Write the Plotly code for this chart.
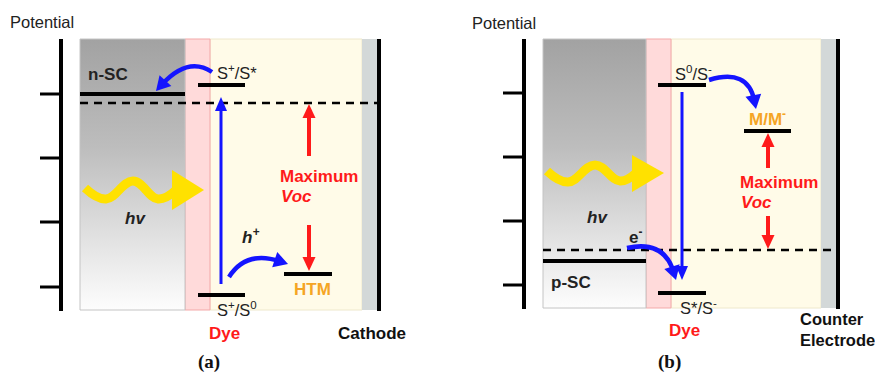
import plotly.graph_objects as go

W, H = 875, 372

# ---------------- layout of the two panels (pixel space) ----------------
axis_x = [61, 524]
axis_y = [[39, 311], [39, 309]]
tick_y = [[94, 158, 222, 287], [93, 157, 221, 285]]
tick_len = 21
box_y = [[39, 310], [39, 308]]
sc_x = [[80, 185], [543, 646]]
dye_x = [[185, 210], [646, 671]]
yel_x = [[210, 362], [671, 821]]
strip_x = [[362, 377], [821, 836]]
right_x = [379, 838]

# ---------------- energy levels: (x0, x1, y) ----------------
levels_a = {"n-SC": (80, 185, 94), "S+/S*": (198, 245, 85),
            "S+/S0": (198, 245, 295), "HTM": (284, 332, 274)}
levels_b = {"p-SC": (543, 646, 261), "S0/S-": (658, 706, 85),
            "S*/S-": (658, 706, 293), "M/M-": (744, 791, 131)}
dashed_a = (80, 377, 103)
dashed_b = (543, 836, 250)

# ---------------- arrows ----------------
# straight: (x, y_from, y_to, color)
straight_arrows = [(221, 284, 97, "blue"), (682, 92, 280, "blue"),
                   (309, 156, 104, "red"), (309, 225, 271, "red"),
                   (768, 168, 133, "red"), (768, 216, 249, "red")]
# curved: (start, control, tip)
curved_arrows = [((212, 72), (188, 56), (156, 91)),
                 ((229, 277), (246, 250), (288, 264)),
                 ((709, 80), (748, 68), (756, 109)),
                 ((627, 248), (664, 240), (676, 280))]

# photon waves (waypoints) and arrowheads
wave_a_x = [85, 106, 133, 158, 176]
wave_a_y = [188, 199, 181, 199, 190]
wave_b_x = [547, 568, 595, 620, 636]
wave_b_y = [171, 182, 165, 181, 173]
photon_heads = [((172, 170), (204, 190), (172, 210)),
                ((632, 155), (664, 173), (632, 192))]

BLUE = "#1414ff"
RED = "#ff1a1a"
ORANGE = "#f5a524"
GOLD = "#ffe100"
PINK = "#ffdada"
YELLOW = "#fffbe8"
STRIP = "#d3d8d8"
FONT = "Liberation Sans, Arial, sans-serif"

fig = go.Figure()
shapes = []

# background rectangles
for i in range(2):
    y0, y1 = box_y[i]
    shapes.append(dict(type="rect", x0=yel_x[i][0], x1=yel_x[i][1], y0=y0, y1=y1,
                       fillcolor=YELLOW, line=dict(color="#eee8cc", width=1), layer="below"))
    shapes.append(dict(type="rect", x0=dye_x[i][0], x1=dye_x[i][1], y0=y0, y1=y1,
                       fillcolor=PINK, line=dict(color="#f3a9a9", width=1), layer="below"))
    shapes.append(dict(type="rect", x0=strip_x[i][0], x1=strip_x[i][1], y0=y0, y1=y1,
                       fillcolor=STRIP, line=dict(width=0), layer="below"))
    # gradient semiconductor box
    x0, x1 = sc_x[i]
    fig.add_trace(go.Scatter(
        x=[x0, x1, x1, x0, x0], y=[y0, y0, y1, y1, y0], mode="lines", fill="toself",
        line=dict(color="#c4c4c4", width=1),
        fillgradient=dict(type="vertical", start=y0, stop=y1,
                          colorscale=[[0, "#a2a2a2"], [0.4, "#bdbdbd"],
                                      [0.75, "#e3e3e3"], [1, "#fdfdfd"]]),
        hoverinfo="skip", showlegend=False))
    # axes
    shapes.append(dict(type="line", x0=axis_x[i], x1=axis_x[i], y0=axis_y[i][0], y1=axis_y[i][1],
                       line=dict(color="black", width=4)))
    for ty in tick_y[i]:
        shapes.append(dict(type="line", x0=axis_x[i] - tick_len, x1=axis_x[i], y0=ty, y1=ty,
                           line=dict(color="black", width=3)))
    shapes.append(dict(type="line", x0=right_x[i], x1=right_x[i], y0=axis_y[i][0], y1=axis_y[i][1],
                       line=dict(color="black", width=4)))

# photon waves
for wx, wy in [(wave_a_x, wave_a_y), (wave_b_x, wave_b_y)]:
    fig.add_trace(go.Scatter(x=wx, y=wy, mode="lines",
                             line=dict(color=GOLD, width=9, shape="spline", smoothing=1.2),
                             hoverinfo="skip", showlegend=False))
for p0, p1, p2 in photon_heads:
    shapes.append(dict(type="path",
                       path=f"M{p0[0]},{p0[1]} L{p1[0]},{p1[1]} L{p2[0]},{p2[1]} Z",
                       fillcolor=GOLD, line=dict(width=0)))

# levels
for lv in list(levels_a.values()) + list(levels_b.values()):
    shapes.append(dict(type="line", x0=lv[0], x1=lv[1], y0=lv[2], y1=lv[2],
                       line=dict(color="black", width=4)))
for d in (dashed_a, dashed_b):
    shapes.append(dict(type="line", x0=d[0], x1=d[1], y0=d[2], y1=d[2],
                       line=dict(color="black", width=2.5, dash="8px,6px")))


def head(tip, dx, dy, color, L=13, Wd=6.5):
    n = (dx * dx + dy * dy) ** 0.5
    ux, uy = dx / n, dy / n
    bx, by = tip[0] - L * ux, tip[1] - L * uy
    px, py = -uy, ux
    return dict(type="path",
                path=(f"M{tip[0]},{tip[1]} L{bx + Wd * px},{by + Wd * py} "
                      f"L{bx - Wd * px},{by - Wd * py} Z"),
                fillcolor=color, line=dict(width=0)), (bx + 0.4 * L * ux, by + 0.4 * L * uy)


for x, ya, yb, c in straight_arrows:
    col = BLUE if c == "blue" else RED
    w = 3 if c == "blue" else 4
    hd, base = head((x, yb), 0, yb - ya, col, L=14, Wd=6 if c == "blue" else 6.5)
    shapes.append(dict(type="line", x0=x, x1=x, y0=ya, y1=base[1], line=dict(color=col, width=w)))
    shapes.append(hd)

for s, c, t in curved_arrows:
    hd, base = head(t, t[0] - c[0], t[1] - c[1], BLUE, L=14, Wd=8)
    shapes.append(dict(type="path", path=f"M{s[0]},{s[1]} Q{c[0]},{c[1]} {base[0]},{base[1]}",
                       line=dict(color=BLUE, width=4.5)))
    shapes.append(hd)

# ---------------- text ----------------
texts = [
    # (text, x, y, color, bold, italic, xanchor, size)
    ("Potential", 42, 22, "#222", False, False, "center", 16.5),
    ("Potential", 504, 23, "#222", False, False, "center", 16.5),
    ("n-SC", 108, 74, "#222", True, False, "center", 17),
    ("S<sup>+</sup>/S*", 237, 72, "#222", False, False, "center", 16.5),
    ("S<sup>+</sup>/S<sup>0</sup>", 237, 309, "#222", False, False, "center", 16.5),
    ("hv", 135, 218, "#222", True, True, "center", 17),
    ("h<sup>+</sup>", 250, 236, "#222", True, True, "center", 17),
    ("Maximum", 278, 176, RED, True, False, "left", 17),
    ("Voc", 279, 196, RED, True, True, "left", 17),
    ("HTM", 312, 289, ORANGE, True, False, "center", 17),
    ("Dye", 224, 333, RED, True, False, "center", 17),
    ("Cathode", 372, 333, "#111", True, False, "center", 17),
    ("S<sup>0</sup>/S<sup>-</sup>", 693, 73, "#222", False, False, "center", 16.5),
    ("M/M<sup>-</sup>", 767, 118, ORANGE, True, False, "center", 17),
    ("Maximum", 738, 182, RED, True, False, "left", 17),
    ("Voc", 739, 202, RED, True, True, "left", 17),
    ("hv", 597, 217, "#222", True, True, "center", 17),
    ("e<sup>-</sup>", 635, 236, "#222", True, False, "center", 17),
    ("p-SC", 571, 282, "#222", True, False, "center", 17),
    ("S*/S<sup>-</sup>", 698, 307, "#222", False, False, "center", 16.5),
    ("Dye", 684, 330, RED, True, False, "center", 17),
    ("Counter<br>Electrode", 798, 329, "#111", True, False, "left", 16.5),
]
annotations = []
for t, x, y, c, b, it, xa, sz in texts:
    s = t
    if b:
        s = f"<b>{s}</b>"
    if it:
        s = f"<i>{s}</i>"
    annotations.append(dict(text=s, x=x, y=y, xref="x", yref="y", showarrow=False,
                            xanchor=xa, yanchor="middle", align="left",
                            font=dict(family=FONT, size=sz, color=c)))
for t, x in [("(a)", 209), ("(b)", 669)]:
    annotations.append(dict(text=f"<b>{t}</b>", x=x, y=362, xref="x", yref="y", showarrow=False,
                            xanchor="center", yanchor="middle",
                            font=dict(family="Liberation Serif, Times New Roman, serif", size=19, color="#111")))

fig.update_layout(
    width=W, height=H, autosize=False, margin=dict(l=0, r=0, t=0, b=0),
    paper_bgcolor="white", plot_bgcolor="white",
    xaxis=dict(range=[0, W], visible=False, fixedrange=True),
    yaxis=dict(range=[H, 0], visible=False, fixedrange=True),
    shapes=shapes, annotations=annotations, showlegend=False,
)
fig.write_html("out.html", config={"displayModeBar": False},
               post_script="document.body.style.margin='0px';document.body.style.overflow='hidden';")
